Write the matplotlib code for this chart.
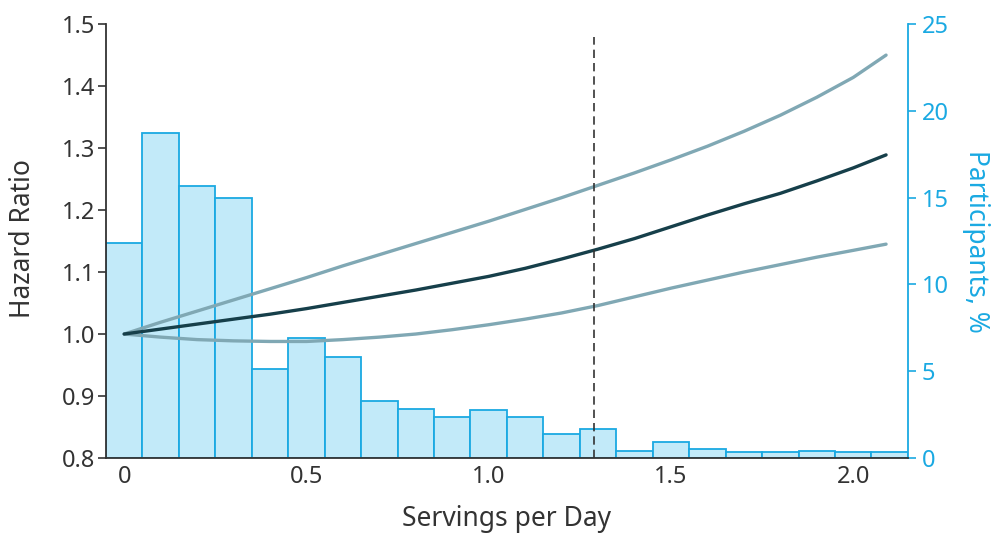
import matplotlib
matplotlib.use("Agg")
import matplotlib.pyplot as plt

# histogram of intake (percent of participants), bins 0.1 servings wide
bin_centers = [0.0, 0.1, 0.2, 0.3, 0.4, 0.5, 0.6, 0.7, 0.8, 0.9, 1.0,
               1.1, 1.2, 1.3, 1.4, 1.5, 1.6, 1.7, 1.8, 1.9, 2.0, 2.1]
participants_pct = [12.4, 18.7, 15.7, 15.0, 5.1, 6.9, 5.8, 3.3, 2.8, 2.35, 2.75,
                    2.35, 1.4, 1.65, 0.42, 0.95, 0.53, 0.33, 0.33, 0.42, 0.37, 0.36]

# spline estimate of hazard ratio with 95% CI
servings = [0.0, 0.1, 0.2, 0.3, 0.4, 0.5, 0.6, 0.7, 0.8, 0.9, 1.0,
            1.1, 1.2, 1.3, 1.4, 1.5, 1.6, 1.7, 1.8, 1.9, 2.0, 2.09]
hr = [1.000, 1.008, 1.016, 1.024, 1.032, 1.041, 1.051, 1.061, 1.071, 1.082, 1.093,
      1.106, 1.121, 1.137, 1.154, 1.173, 1.192, 1.210, 1.227, 1.247, 1.268, 1.289]
hr_upper = [1.000, 1.019, 1.037, 1.055, 1.073, 1.091, 1.110, 1.128, 1.146, 1.164, 1.182,
            1.201, 1.220, 1.240, 1.260, 1.281, 1.303, 1.327, 1.353, 1.382, 1.414, 1.450]
hr_lower = [1.000, 0.995, 0.991, 0.989, 0.988, 0.988, 0.991, 0.995, 1.000, 1.007, 1.015,
            1.024, 1.034, 1.046, 1.060, 1.074, 1.087, 1.100, 1.112, 1.124, 1.135, 1.145]

ref_line_x = 1.29
ref_line_top = 1.48

dark = '#333333'
blue = '#1aa9e2'
plt.rcParams['font.family'] = ['Noto Sans', 'DejaVu Sans']

fig = plt.figure(figsize=(9.95, 5.42), dpi=100)
ax1 = fig.add_axes([0.1065, 0.155, 0.806, 0.8005])
ax2 = ax1.twinx()

# bars on the right axis, drawn behind the curves
ax2.bar(bin_centers, participants_pct, width=0.1, color='#c2eaf9',
        edgecolor=blue, linewidth=1.3)
ax2.set_ylim(0, 25)
ax2.set_yticks([0, 5, 10, 15, 20, 25])
ax2.set_ylabel('Participants, %', color=blue, fontsize=19, rotation=270, va='bottom')
ax2.yaxis.set_label_coords(1.068, 0.5)
ax2.tick_params(axis='y', colors=blue, labelsize=17, length=6, width=1.2, pad=4)
for s in ['top', 'left', 'bottom']:
    ax2.spines[s].set_visible(False)
ax2.spines['right'].set_color(blue)
ax2.spines['right'].set_linewidth(1.3)

ax1.set_zorder(ax2.get_zorder() + 1)
ax1.patch.set_visible(False)

ax1.plot(servings, hr_upper, color='#80a8b4', linewidth=2.4, solid_capstyle='round')
ax1.plot(servings, hr_lower, color='#80a8b4', linewidth=2.4, solid_capstyle='round')
ax1.plot(servings, hr, color='#163f4a', linewidth=2.4, solid_capstyle='round')
ax1.plot([ref_line_x, ref_line_x], [0.8, ref_line_top], color=dark,
         linewidth=1.2, linestyle=(0, (5, 3)))

ax1.set_xlim(-0.05, 2.15)
ax1.set_ylim(0.8, 1.5)
ax1.set_xticks([0, 0.5, 1.0, 1.5, 2.0])
ax1.set_xticklabels(['0', '0.5', '1.0', '1.5', '2.0'])
ax1.set_yticks([0.8, 0.9, 1.0, 1.1, 1.2, 1.3, 1.4, 1.5])
ax1.set_yticklabels(['0.8', '0.9', '1.0', '1.1', '1.2', '1.3', '1.4', '1.5'])
ax1.tick_params(axis='x', length=0, labelsize=17, colors=dark, pad=5)
ax1.tick_params(axis='y', length=6, width=1.2, labelsize=17, colors=dark, pad=2)
ax1.set_xlabel('Servings per Day', fontsize=19, color=dark)
ax1.xaxis.set_label_coords(0.5, -0.108)
ax1.set_ylabel('Hazard Ratio', fontsize=19, color=dark)
ax1.yaxis.set_label_coords(-0.086, 0.505)
for s in ['top', 'right']:
    ax1.spines[s].set_visible(False)
ax1.spines['left'].set_color(dark)
ax1.spines['bottom'].set_color(dark)
ax1.spines['left'].set_linewidth(1.3)
ax1.spines['bottom'].set_linewidth(1.3)

fig.savefig('out.png', dpi=100)
